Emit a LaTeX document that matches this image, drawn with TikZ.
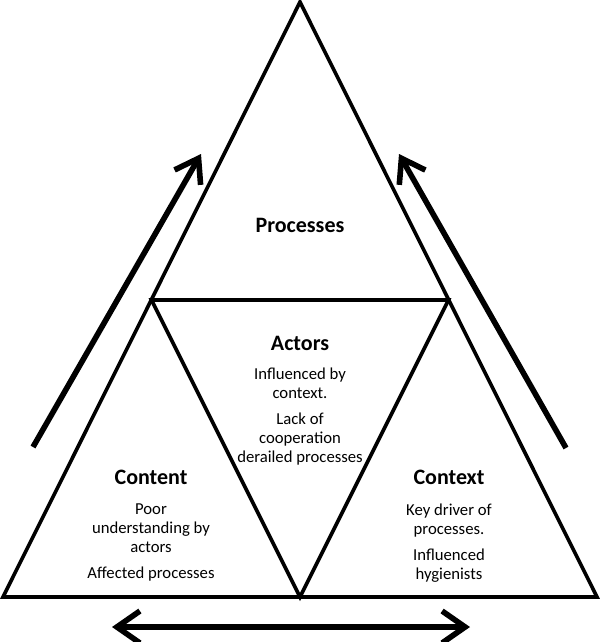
\documentclass[tikz,border=0pt]{standalone}
\usepackage{fontspec}
\setmainfont{Carlito}
\usetikzlibrary{arrows.meta}
\tikzset{
  tri/.style={line width=3.6pt, line join=miter},
  flow/.style={line width=5.6pt, -{Straight Barb[length=22pt,width=30pt,line width=5.6pt]}},
  both/.style={line width=5.6pt, {Straight Barb[length=23pt,width=32pt,line width=5.6pt]}-{Straight Barb[length=23pt,width=32pt,line width=5.6pt]}},
  title/.style={font=\fontsize{22}{24}\selectfont\bfseries, inner sep=0pt},
  body/.style={font=\fontsize{16.7}{19.1}\selectfont, align=center, inner sep=0pt, anchor=north}
}
\begin{document}
\begin{tikzpicture}[x=1pt,y=-1pt]
\useasboundingbox (0,0) rectangle (600,642);
% corners
\coordinate (apex) at (300,2);
\coordinate (bl) at (3,597);
\coordinate (br) at (597,597);
\coordinate (ml) at (151.5,300);
\coordinate (mr) at (448.5,300);
\coordinate (bm) at (300,597);
\draw[tri] (apex) -- (bl) -- (br) -- cycle;
\draw[tri] (ml) -- (mr) -- (bm) -- cycle;
% arrows
\coordinate (la0) at (33,447);
\coordinate (la1) at (201,154);
\coordinate (ra0) at (566,448);
\coordinate (ra1) at (399,154);
\coordinate (ba0) at (112,627);
\coordinate (ba1) at (470,627);
\draw[flow] (la0) -- (la1);
\draw[flow] (ra0) -- (ra1);
\draw[both] (ba0) -- (ba1);
% texts
\node[title] (proc) at (300,225) {Processes};
\node[title] (act) at (300,343) {Actors};
\node[body] (actb) at (300,368) {Influenced by\\context.\\[6pt]Lack of\\cooperation\\derailed processes};
\node[title] (cont) at (151,477) {Content};
\node[body] (contb) at (151,503.5) {Poor\\understanding by\\actors\\[7pt]Affected processes};
\node[title] (ctx) at (449,477) {Context};
\node[body] (ctxb) at (449,503.5) {Key driver of\\processes.\\[7pt]Influenced\\hygienists};
\end{tikzpicture}
\end{document}
